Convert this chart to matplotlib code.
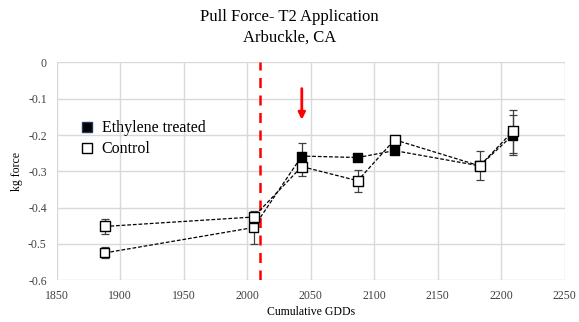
import numpy as np
from matplotlib import pyplot as plt

# pull force readings vs cumulative GDDs
gdd = [1888, 2005, 2043, 2087, 2116, 2183, 2209]
eth_mean = [-0.525, -0.455, -0.258, -0.262, -0.243, -0.285, -0.200]
eth_err = [0.015, 0.045, 0.037, 0.010, 0.008, 0.010, 0.055]
ctl_mean = [-0.452, -0.426, -0.287, -0.326, -0.213, -0.285, -0.190]
ctl_err = [0.020, 0.010, 0.025, 0.030, 0.010, 0.040, 0.060]
# marker fill per point for the treated series
eth_face = ['white', 'white', 'black', 'black', 'black', 'black', 'black']

application_gdd = 2010
arrow_gdd = 2043

plt.rcParams['font.family'] = ['Liberation Serif', 'DejaVu Serif']

fig = plt.figure(figsize=(5.79, 3.22), dpi=100)
ax = fig.add_axes([0.0976, 0.130, 0.878, 0.676])

# error bars first so the markers sit on top
ax.errorbar(gdd, eth_mean, yerr=eth_err, fmt='none', ecolor='#404040',
            elinewidth=0.9, capsize=3, capthick=0.9, zorder=3)
ax.errorbar(gdd, ctl_mean, yerr=ctl_err, fmt='none', ecolor='#404040',
            elinewidth=0.9, capsize=3, capthick=0.9, zorder=3)

ax.plot(gdd, eth_mean, '--', color='black', lw=0.9, dashes=(3, 1.5), zorder=4)
ax.scatter(gdd, eth_mean, marker='s', s=42, c=eth_face, edgecolors='black',
           linewidths=1.0, zorder=5)
ax.plot(gdd, ctl_mean, '--', color='black', lw=0.9, dashes=(3, 1.5), zorder=4)
ax.scatter(gdd, ctl_mean, marker='s', s=42, c='white', edgecolors='black',
           linewidths=1.0, zorder=6)

# legend entries
h1, = ax.plot([], [], 's', ms=7, mfc='black', mec='#1f3864', mew=1.0,
              label='Ethylene treated')
h2, = ax.plot([], [], 's', ms=7, mfc='white', mec='black', mew=1.0,
              label='Control')
ax.legend(handles=[h1, h2], loc='upper left', bbox_to_anchor=(0.02, 0.80),
          frameon=False, fontsize=11.5, handlelength=0.8, handletextpad=0.5,
          labelspacing=0.3, borderaxespad=0.5)

# application timing
ax.axvline(application_gdd, color='#ff0000', lw=1.8, ls=(0, (4, 3)), zorder=2)
ax.annotate('', xy=(arrow_gdd, -0.158), xytext=(arrow_gdd, -0.072),
            arrowprops=dict(arrowstyle='-|>', color='#ff0000', lw=2,
                            mutation_scale=10, shrinkA=0, shrinkB=0))

ax.set_xlim(1850, 2250)
ax.set_ylim(-0.6, 0)
ax.set_xticks(np.arange(1850, 2251, 50))
ax.set_yticks(np.arange(-0.6, 0.01, 0.1))
ax.set_yticklabels(['-0.6', '-0.5', '-0.4', '-0.3', '-0.2', '-0.1', '0'])
ax.grid(True, color='#d9d9d9', lw=1.0)
ax.set_axisbelow(True)
for s in ax.spines.values():
    s.set_visible(False)
ax.tick_params(length=0, labelsize=8.5, colors='#404040')
ax.tick_params(axis='x', pad=7)
ax.tick_params(axis='y', pad=7)

ax.set_xlabel('Cumulative GDDs', fontsize=8.5, labelpad=3)
ax.set_ylabel('kg force', fontsize=8.5)
ax.yaxis.set_label_coords(-0.066, 0.5)
fig.text(0.5, 1 - 17 / 322, 'Pull Force- T2 Application', fontsize=12,
         ha='center', va='center')
fig.text(0.5, 1 - 38 / 322, 'Arbuckle, CA', fontsize=12,
         ha='center', va='center')

fig.savefig('out.png', dpi=100)
